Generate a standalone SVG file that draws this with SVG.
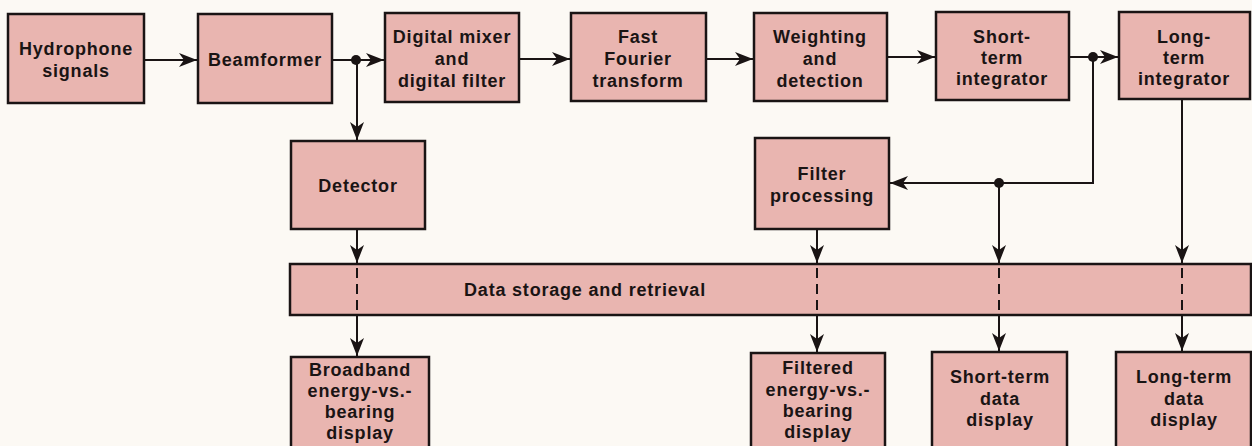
<svg xmlns="http://www.w3.org/2000/svg" width="1252" height="446" viewBox="0 0 1252 446">
<style>
.bg{fill:#fcf9f4}
.box{fill:#e9b5b0;stroke:#1a1414;stroke-width:2.5}
.t{font-family:"Liberation Sans",Arial,sans-serif;font-weight:bold;font-size:18px;fill:#1a1414;text-anchor:middle;letter-spacing:0.8px}
.ar{fill:none;stroke:#1a1414;stroke-width:2;marker-end:url(#ah)}
.dash{fill:none;stroke:#1a1414;stroke-width:2;stroke-dasharray:10,6}
.dot{fill:#1a1414}
</style>
<defs>
<marker id="ah" markerUnits="userSpaceOnUse" markerWidth="18" markerHeight="14" refX="18" refY="7" orient="auto">
<path d="M0,0 L18,7 L0,14 L5,7 z" fill="#1a1414"/>
</marker>
</defs>
<rect class="bg" x="0" y="0" width="1252" height="446"/>

<g id="hydrophone">
<rect class="box" x="8" y="14" width="136" height="89"/>
<text class="t" x="76" y="55">Hydrophone</text>
<text class="t" x="76" y="77">signals</text>
</g>
<g id="beamformer">
<rect class="box" x="198" y="14" width="134" height="89"/>
<text class="t" x="265" y="66">Beamformer</text>
</g>
<g id="mixer">
<rect class="box" x="385" y="13" width="134" height="89"/>
<text class="t" x="452" y="43">Digital mixer</text>
<text class="t" x="452" y="65">and</text>
<text class="t" x="452" y="87">digital filter</text>
</g>
<g id="fft">
<rect class="box" x="571" y="13" width="135" height="88"/>
<text class="t" x="638" y="43">Fast</text>
<text class="t" x="638" y="65">Fourier</text>
<text class="t" x="638" y="87">transform</text>
</g>
<g id="weighting">
<rect class="box" x="754" y="13" width="133" height="88"/>
<text class="t" x="820" y="43">Weighting</text>
<text class="t" x="820" y="65">and</text>
<text class="t" x="820" y="87">detection</text>
</g>
<g id="short-int">
<rect class="box" x="936" y="12" width="133" height="88"/>
<text class="t" x="1002" y="43">Short-</text>
<text class="t" x="1002" y="64">term</text>
<text class="t" x="1002" y="85">integrator</text>
</g>
<g id="long-int">
<rect class="box" x="1119" y="12" width="131" height="87"/>
<text class="t" x="1184" y="43">Long-</text>
<text class="t" x="1184" y="64">term</text>
<text class="t" x="1184" y="85">integrator</text>
</g>
<g id="detector">
<rect class="box" x="291" y="141" width="134" height="88"/>
<text class="t" x="358" y="192">Detector</text>
</g>
<g id="filter-processing">
<rect class="box" x="755" y="138" width="134" height="91"/>
<text class="t" x="822" y="180">Filter</text>
<text class="t" x="822" y="202">processing</text>
</g>
<g id="storage">
<rect class="box" x="290" y="264" width="961" height="51"/>
<text class="t" x="585" y="296">Data storage and retrieval</text>
</g>
<g id="broadband">
<rect class="box" x="291" y="357" width="138" height="100"/>
<text class="t" x="360" y="376">Broadband</text>
<text class="t" x="360" y="397">energy-vs.-</text>
<text class="t" x="360" y="418">bearing</text>
<text class="t" x="360" y="439">display</text>
</g>
<g id="filtered">
<rect class="box" x="751" y="353" width="134" height="100"/>
<text class="t" x="818" y="374">Filtered</text>
<text class="t" x="818" y="396">energy-vs.-</text>
<text class="t" x="818" y="417">bearing</text>
<text class="t" x="818" y="438">display</text>
</g>
<g id="short-display">
<rect class="box" x="932" y="352" width="135" height="100"/>
<text class="t" x="1000" y="383">Short-term</text>
<text class="t" x="1000" y="405">data</text>
<text class="t" x="1000" y="426">display</text>
</g>
<g id="long-display">
<rect class="box" x="1116" y="352" width="135" height="100"/>
<text class="t" x="1184" y="383">Long-term</text>
<text class="t" x="1184" y="405">data</text>
<text class="t" x="1184" y="426">display</text>
</g>

<g id="connectors">
<path class="ar" d="M145,60 H197"/>
<path class="ar" d="M333,60 H384"/>
<path class="ar" d="M520,59 H570"/>
<path class="ar" d="M707,59 H753"/>
<path class="ar" d="M888,57 H935"/>
<path class="ar" d="M1070,57 H1118"/>
<path class="ar" d="M357,60 V140"/>
<path class="ar" d="M357,230 V263"/>
<path class="dash" d="M357,268 V314"/>
<path class="ar" d="M357,316 V356"/>
<path class="ar" d="M1093,57 V183 H890"/>
<path class="ar" d="M999,183 V263"/>
<path class="ar" d="M817,230 V263"/>
<path class="ar" d="M1182,100 V263"/>
<path class="dash" d="M817,268 V314"/>
<path class="dash" d="M999,268 V314"/>
<path class="dash" d="M1182,268 V314"/>
<path class="ar" d="M817,316 V352"/>
<path class="ar" d="M999,316 V351"/>
<path class="ar" d="M1182,316 V351"/>
<circle class="dot" cx="356" cy="60" r="5"/>
<circle class="dot" cx="1093" cy="57" r="5"/>
<circle class="dot" cx="999" cy="183" r="5"/>
</g>
</svg>
